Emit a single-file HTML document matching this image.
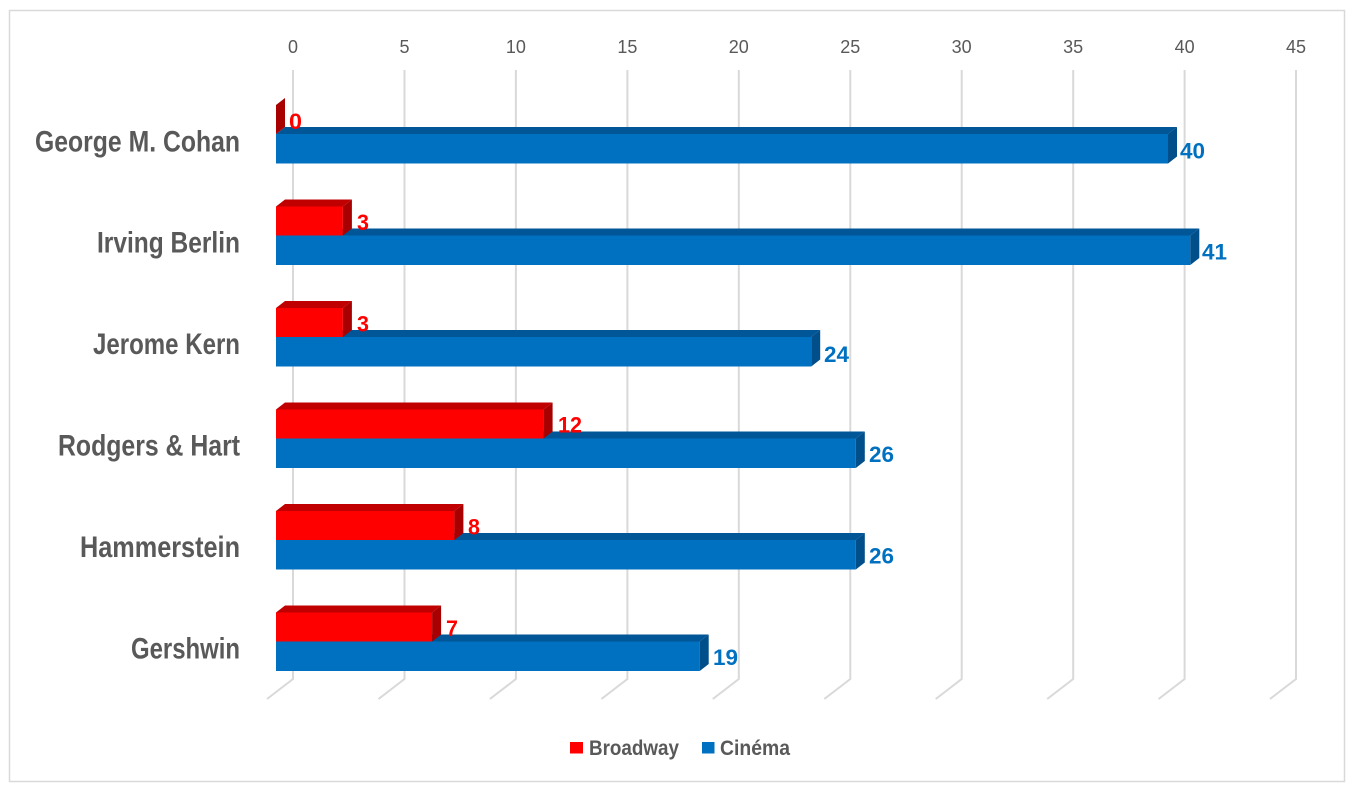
<!DOCTYPE html>
<html>
<head>
<meta charset="utf-8">
<style>
  html,body{margin:0;padding:0;background:#ffffff;}
  svg{display:block;}
  .tick{font-family:"Liberation Sans",sans-serif;font-size:18px;fill:#595959;}
  .cat{font-family:"Liberation Sans",sans-serif;font-size:30px;font-weight:bold;fill:#595959;}
  .vr{font-family:"Liberation Sans",sans-serif;font-size:22px;font-weight:bold;fill:#FF0000;}
  .vb{font-family:"Liberation Sans",sans-serif;font-size:22px;font-weight:bold;fill:#0070C0;}
  .leg{font-family:"Liberation Sans",sans-serif;font-size:21px;font-weight:bold;fill:#595959;}
</style>
</head>
<body>
<svg width="1354" height="792" viewBox="0 0 1354 792" xmlns="http://www.w3.org/2000/svg">
  <rect x="0" y="0" width="1354" height="792" fill="#ffffff"/>
  <rect x="9.5" y="10.5" width="1335" height="771" fill="#ffffff" stroke="#d9d9d9" stroke-width="1.5"/>

  <!-- gridlines -->
  <g fill="none" stroke="#d9d9d9" stroke-width="2">
    <polyline points="293,70 293,679 267,699"/>
    <polyline points="404.5,70 404.5,679 378.5,699"/>
    <polyline points="515.9,70 515.9,679 489.9,699"/>
    <polyline points="627.4,70 627.4,679 601.4,699"/>
    <polyline points="738.8,70 738.8,679 712.8,699"/>
    <polyline points="850.3,70 850.3,679 824.3,699"/>
    <polyline points="961.7,70 961.7,679 935.7,699"/>
    <polyline points="1073.2,70 1073.2,679 1047.2,699"/>
    <polyline points="1184.6,70 1184.6,679 1158.6,699"/>
    <polyline points="1296,70 1296,679 1270,699"/>
  </g>

  <!-- tick labels -->
  <g class="tick" text-anchor="middle">
    <text x="293" y="53">0</text>
    <text x="404.5" y="53">5</text>
    <text x="515.9" y="53">10</text>
    <text x="627.4" y="53">15</text>
    <text x="738.8" y="53">20</text>
    <text x="850.3" y="53">25</text>
    <text x="961.7" y="53">30</text>
    <text x="1073.2" y="53">35</text>
    <text x="1184.6" y="53">40</text>
    <text x="1296" y="53">45</text>
  </g>

  <!-- category labels -->
  <g class="cat" text-anchor="end">
    <text x="240" y="151.5" textLength="205" lengthAdjust="spacingAndGlyphs">George M. Cohan</text>
    <text x="240" y="252.5" textLength="143" lengthAdjust="spacingAndGlyphs">Irving Berlin</text>
    <text x="240" y="354" textLength="147" lengthAdjust="spacingAndGlyphs">Jerome Kern</text>
    <text x="240" y="455.5" textLength="182" lengthAdjust="spacingAndGlyphs">Rodgers &amp; Hart</text>
    <text x="240" y="557" textLength="160" lengthAdjust="spacingAndGlyphs">Hammerstein</text>
    <text x="240" y="658.5" textLength="109" lengthAdjust="spacingAndGlyphs">Gershwin</text>
  </g>

  <!-- Bars: Cinema (blue) -->
  <g>
    <polygon points="276,134 285,127 1177,127 1168,134" fill="#005697"/>
    <rect x="276" y="134" width="892" height="29.5" fill="#0070C0"/>
    <polygon points="1168,134 1177,127 1177,156.5 1168,163.5" fill="#004E8A"/>
  </g>
  <g>
    <polygon points="276,235.5 285,228.5 1199.3,228.5 1190.3,235.5" fill="#005697"/>
    <rect x="276" y="235.5" width="914.3" height="29.5" fill="#0070C0"/>
    <polygon points="1190.3,235.5 1199.3,228.5 1199.3,258 1190.3,265" fill="#004E8A"/>
  </g>
  <g>
    <polygon points="276,337 285,330 820.2,330 811.2,337" fill="#005697"/>
    <rect x="276" y="337" width="535.2" height="29.5" fill="#0070C0"/>
    <polygon points="811.2,337 820.2,330 820.2,359.5 811.2,366.5" fill="#004E8A"/>
  </g>
  <g>
    <polygon points="276,438.5 285,431.5 864.8,431.5 855.8,438.5" fill="#005697"/>
    <rect x="276" y="438.5" width="579.8" height="29.5" fill="#0070C0"/>
    <polygon points="855.8,438.5 864.8,431.5 864.8,461 855.8,468" fill="#004E8A"/>
  </g>
  <g>
    <polygon points="276,540 285,533 864.8,533 855.8,540" fill="#005697"/>
    <rect x="276" y="540" width="579.8" height="29.5" fill="#0070C0"/>
    <polygon points="855.8,540 864.8,533 864.8,562.5 855.8,569.5" fill="#004E8A"/>
  </g>
  <g>
    <polygon points="276,641.5 285,634.5 708.7,634.5 699.7,641.5" fill="#005697"/>
    <rect x="276" y="641.5" width="423.7" height="29.5" fill="#0070C0"/>
    <polygon points="699.7,641.5 708.7,634.5 708.7,664 699.7,671" fill="#004E8A"/>
  </g>

  <!-- Bars: Broadway (red) -->
  <polygon points="276,105 285,98 285,127 276,134" fill="#A80000"/>
  <g>
    <polygon points="276,206.5 285,199.5 351.9,199.5 342.9,206.5" fill="#C00000"/>
    <rect x="276" y="206.5" width="66.9" height="29" fill="#FF0000"/>
    <polygon points="342.9,206.5 351.9,199.5 351.9,228.5 342.9,235.5" fill="#A80000"/>
  </g>
  <g>
    <polygon points="276,308 285,301 351.9,301 342.9,308" fill="#C00000"/>
    <rect x="276" y="308" width="66.9" height="29" fill="#FF0000"/>
    <polygon points="342.9,308 351.9,301 351.9,330 342.9,337" fill="#A80000"/>
  </g>
  <g>
    <polygon points="276,409.5 285,402.5 552.6,402.5 543.6,409.5" fill="#C00000"/>
    <rect x="276" y="409.5" width="267.6" height="29" fill="#FF0000"/>
    <polygon points="543.6,409.5 552.6,402.5 552.6,431.5 543.6,438.5" fill="#A80000"/>
  </g>
  <g>
    <polygon points="276,511 285,504 463.4,504 454.4,511" fill="#C00000"/>
    <rect x="276" y="511" width="178.4" height="29" fill="#FF0000"/>
    <polygon points="454.4,511 463.4,504 463.4,533 454.4,540" fill="#A80000"/>
  </g>
  <g>
    <polygon points="276,612.5 285,605.5 441.1,605.5 432.1,612.5" fill="#C00000"/>
    <rect x="276" y="612.5" width="156.1" height="29" fill="#FF0000"/>
    <polygon points="432.1,612.5 441.1,605.5 441.1,634.5 432.1,641.5" fill="#A80000"/>
  </g>

  <!-- value labels -->
  <g class="vr">
    <text x="289" y="129" textLength="13" lengthAdjust="spacingAndGlyphs">0</text>
    <text x="357" y="230" textLength="12" lengthAdjust="spacingAndGlyphs">3</text>
    <text x="357" y="331.5" textLength="12" lengthAdjust="spacingAndGlyphs">3</text>
    <text x="558" y="432.5" textLength="24" lengthAdjust="spacingAndGlyphs">12</text>
    <text x="468" y="534.5" textLength="12" lengthAdjust="spacingAndGlyphs">8</text>
    <text x="446" y="636" textLength="12" lengthAdjust="spacingAndGlyphs">7</text>
  </g>
  <g class="vb">
    <text x="1180" y="158.5" textLength="25" lengthAdjust="spacingAndGlyphs">40</text>
    <text x="1202" y="259.5" textLength="25" lengthAdjust="spacingAndGlyphs">41</text>
    <text x="824" y="362" textLength="25" lengthAdjust="spacingAndGlyphs">24</text>
    <text x="869" y="462" textLength="25" lengthAdjust="spacingAndGlyphs">26</text>
    <text x="869" y="563.5" textLength="25" lengthAdjust="spacingAndGlyphs">26</text>
    <text x="713" y="665" textLength="25" lengthAdjust="spacingAndGlyphs">19</text>
  </g>

  <!-- legend -->
  <rect x="570" y="742" width="13" height="11.5" fill="#FF0000"/>
  <text class="leg" x="589" y="755" textLength="90" lengthAdjust="spacingAndGlyphs">Broadway</text>
  <rect x="702" y="742" width="12.5" height="11.5" fill="#0070C0"/>
  <text class="leg" x="720" y="755" textLength="70" lengthAdjust="spacingAndGlyphs">Cinéma</text>
</svg>
</body>
</html>
